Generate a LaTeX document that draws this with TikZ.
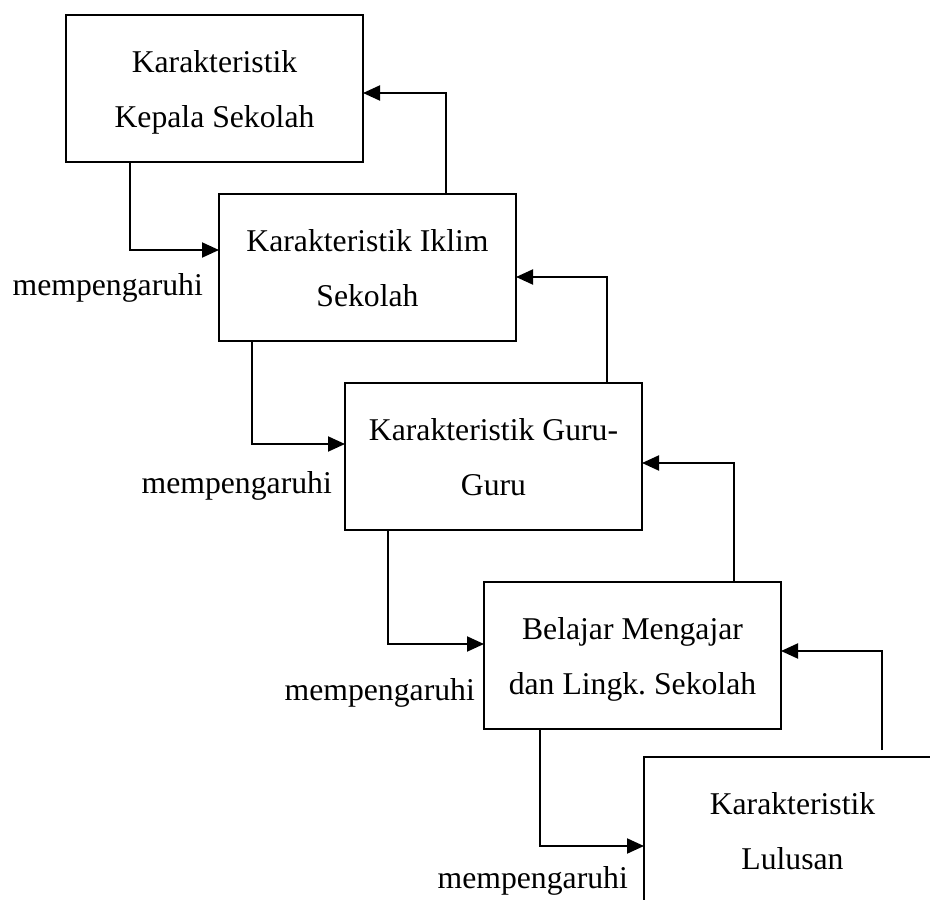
\documentclass[tikz,border=0pt]{standalone}
\usepackage{fontspec}
\setmainfont{Liberation Serif}
\usetikzlibrary{positioning, arrows.meta}

\begin{document}
\begin{tikzpicture}[
  x=1pt, y=-1pt,
  box/.style={draw, line width=2pt, outer sep=0pt, anchor=north west,
              minimum width=297pt, minimum height=147pt, align=center,
              font=\fontsize{31.7}{55}\selectfont},
  lbl/.style={inner sep=0pt, anchor=base east, font=\fontsize{31.7}{38}\selectfont},
  ar/.style={-{Triangle[length=17pt, width=15pt]}, line width=2pt},
]
  \fill[white] (0,0) rectangle (930,900);
  \useasboundingbox (0,0) rectangle (930,900);

  \node[box] (kepsek) at (66,15) {\strut Karakteristik\\Kepala Sekolah\strut};
  \node[box] (iklim) at (219,194) {\strut Karakteristik Iklim\\Sekolah\strut};
  \node[box] (guru) at (345,383) {\strut Karakteristik Guru-\\Guru\strut};
  \node[box] (belajar) at (484,582) {\strut Belajar Mengajar\\dan Lingk.\ Sekolah\strut};
  \node[box, draw=none] (lulusan) at (644,757) {\strut Karakteristik\\Lulusan\strut};
  \draw[line width=2pt] (lulusan.north east) -- (lulusan.north west) -- (lulusan.south west);

  \node[lbl] (pengaruh1) at (203,295) {mempengaruhi};
  \node[lbl] (pengaruh2) at (332,493) {mempengaruhi};
  \node[lbl] (pengaruh3) at (475,700) {mempengaruhi};
  \node[lbl] (pengaruh4) at (628,888) {mempengaruhi};

  \draw[ar] ([xshift=64pt]kepsek.south west) |- ([yshift=-56pt]iklim.north west);
  \draw[ar] ([xshift=33pt]iklim.south west) |- ([yshift=-61pt]guru.north west);
  \draw[ar] ([xshift=43pt]guru.south west) |- ([yshift=-62pt]belajar.north west);
  \draw[ar] ([xshift=56pt]belajar.south west) |- ([yshift=-89pt]lulusan.north west);

  \coordinate (balik) at ([xshift=238pt, yshift=7pt]lulusan.north west);
  \draw[ar] ([xshift=227pt]iklim.north west) |- ([yshift=-78pt]kepsek.north east);
  \draw[ar] ([xshift=262pt]guru.north west) |- ([yshift=-83pt]iklim.north east);
  \draw[ar] ([xshift=250pt]belajar.north west) |- ([yshift=-80pt]guru.north east);
  \draw[ar] (balik) |- ([yshift=-69pt]belajar.north east);
\end{tikzpicture}
\end{document}
